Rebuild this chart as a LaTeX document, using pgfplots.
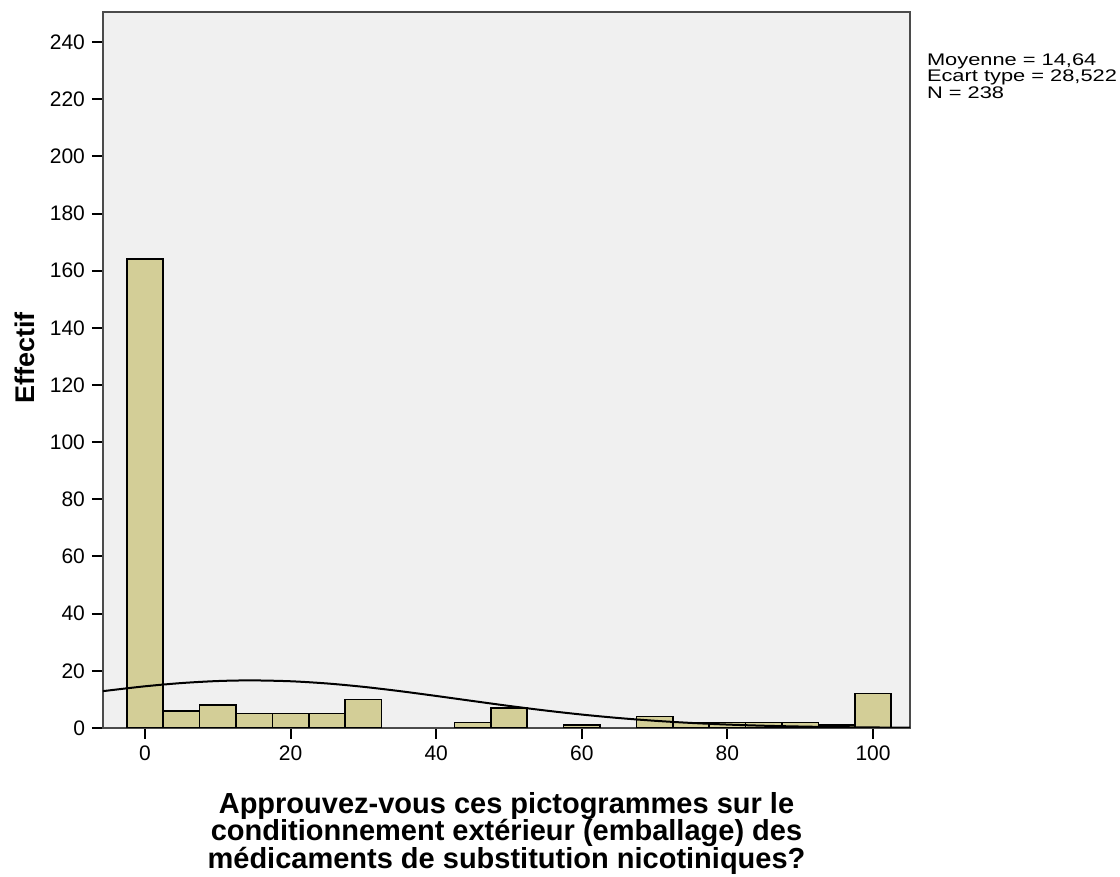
\documentclass[border=0pt]{standalone}
\usepackage{fontspec}
\setmainfont{Liberation Sans}
\newfontfamily\legfont[FakeStretch=1.3]{Liberation Sans}
\usepackage{pgfplots}
\pgfplotsset{compat=1.18}

\definecolor{barfill}{RGB}{211,206,151}
\definecolor{plotbg}{RGB}{240,240,240}
\definecolor{framegray}{RGB}{75,75,75}

\begin{document}
\begin{tikzpicture}
\useasboundingbox (-51.5pt,-74.5pt) rectangle (508.5pt,364pt);
\begin{axis}[
  name=ax,
  at={(0,0)}, anchor=south west,
  scale only axis, width=403.5pt, height=358pt,
  xmin=-5.77, xmax=105.08, ymin=0, ymax=250.5,
  axis background/.style={fill=plotbg},
  axis line style={framegray, line width=1.2pt},
  xtick={0,20,...,100}, ytick={0,20,...,240},
  tick align=outside, tick pos=left, major tick length=5.5pt,
  tick style={black, line width=1pt},
  ticklabel style={font=\fontsize{10.5}{12}\selectfont},
  /pgf/number format/assume math mode=true,
  every axis y label/.style={at={(axis description cs:-0.0967,0.517)}, rotate=90, anchor=center,
    font=\fontsize{13.5}{15}\selectfont\bfseries},
  every axis x label/.style={at={(axis description cs:0.5,-0.0894)}, anchor=north, align=center,
    inner sep=0pt, font=\fontsize{14.5}{13.75}\selectfont\bfseries},
  ylabel={Effectif},
  xlabel={Approuvez-vous ces pictogrammes sur le\\conditionnement extérieur (emballage) des\\médicaments de substitution nicotiniques?},
]
% histogram, bins of width 5 centred on 0,5,...,100 (empty bins left out)
\addplot[ybar, bar width=5, fill=barfill, draw=black, line width=0.75pt] coordinates {
  (0,164) (5,6) (10,8) (15,5) (20,5) (25,5) (30,10)
  (45,2) (50,7) (60,1) (70,4) (75,2) (80,2) (85,2) (90,2) (95,1) (100,12)
};
% normal curve (mean 14.64, sd 28.522, N 238), read values
\addplot[black, line width=1pt, smooth, no marks] coordinates {
  (-6,12.81) (-5,13.13) (0,14.59) (5,15.72) (10,16.43) (14.64,16.65) (20,16.35)
  (25,15.58) (30,14.40) (35,12.90) (40,11.21) (45,9.45) (50,7.72) (55,6.12)
  (60,4.70) (65,3.50) (70,2.53) (75,1.77) (80,1.20) (85,0.79) (90,0.51)
  (95,0.31) (100,0.19) (105,0.11) (106,0.10)
};
\end{axis}
\node[anchor=north west, inner sep=0pt, align=left, font=\legfont\fontsize{8.4}{8.25}\selectfont]
  at ([xshift=8.3pt, yshift=-20.5pt]ax.north east) {Moyenne = 14,64\\Ecart type = 28,522\\N = 238};
\end{tikzpicture}
\end{document}
